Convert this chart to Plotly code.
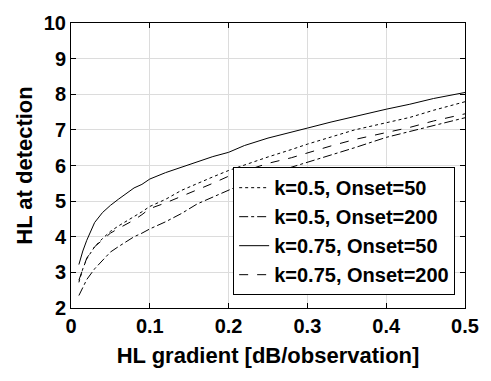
import plotly.graph_objects as go

x_vals = [0.01, 0.015, 0.02, 0.03, 0.04, 0.05, 0.06, 0.07, 0.08, 0.09, 0.1, 0.12, 0.14,
          0.16, 0.18, 0.2, 0.22, 0.25, 0.28, 0.3, 0.33, 0.36, 0.4, 0.43, 0.46, 0.5]

k05_on50 = [2.72, 3.1, 3.38, 3.72, 3.95, 4.15, 4.3, 4.43, 4.55, 4.7, 4.85, 5.05, 5.3,
            5.5, 5.68, 5.86, 6.02, 6.24, 6.45, 6.6, 6.8, 7.0, 7.2, 7.35, 7.55, 7.79]
k05_on200 = [2.35, 2.6, 2.8, 3.1, 3.35, 3.57, 3.72, 3.86, 4.0, 4.1, 4.22, 4.42, 4.65,
             4.92, 5.12, 5.3, 5.5, 5.75, 5.95, 6.1, 6.3, 6.5, 6.79, 6.95, 7.12, 7.34]
k075_on50 = [3.22, 3.6, 3.9, 4.4, 4.68, 4.88, 5.05, 5.22, 5.37, 5.47, 5.62, 5.8, 5.95,
             6.08, 6.25, 6.37, 6.56, 6.77, 6.95, 7.05, 7.22, 7.38, 7.58, 7.72, 7.88, 8.05]
k075_on200 = [2.78, 3.12, 3.4, 3.72, 3.92, 4.1, 4.23, 4.35, 4.47, 4.62, 4.79, 4.95, 5.13,
              5.32, 5.5, 5.7, 5.85, 6.06, 6.22, 6.36, 6.55, 6.73, 6.93, 7.07, 7.25, 7.45]

series = [
    ("k=0.5, Onset=50", k05_on50, "dot"),
    ("k=0.5, Onset=200", k05_on200, "dashdot"),
    ("k=0.75, Onset=50", k075_on50, "solid"),
    ("k=0.75, Onset=200", k075_on200, "dash"),
]

x_ticks = [0, 0.1, 0.2, 0.3, 0.4, 0.5]
x_tick_labels = ["0", "0.1", "0.2", "0.3", "0.4", "0.5"]
y_ticks = [2, 3, 4, 5, 6, 7, 8, 9, 10]

fig = go.Figure()
for name, ys, dash in series:
    fig.add_trace(go.Scatter(x=x_vals, y=ys, mode="lines", name=name,
                             line=dict(color="black", width=1, dash=dash)))

font_family = "Liberation Sans, Arial, sans-serif"
axis_common = dict(showline=True, linecolor="black", linewidth=1, mirror="ticks",
                   ticks="inside", ticklen=5, tickcolor="black",
                   showgrid=True, gridcolor="#dcdcdc", gridwidth=1, zeroline=False,
                   tickfont=dict(family=font_family, size=20, color="black", weight="bold"))

fig.update_layout(
    width=491, height=381,
    margin=dict(l=71, r=17, t=15, b=73),
    paper_bgcolor="white", plot_bgcolor="white",
    xaxis=dict(range=[0, 0.5], tickvals=x_ticks, ticktext=x_tick_labels,
               title=dict(text="HL gradient [dB/observation]", standoff=11,
                          font=dict(family=font_family, size=22, color="black", weight="bold")),
               **axis_common),
    yaxis=dict(range=[2, 10], tickvals=y_ticks,
               title=dict(text="HL at detection", standoff=5,
                          font=dict(family=font_family, size=22, color="black", weight="bold")),
               **axis_common),
    legend=dict(x=0.975, y=0.045, xanchor="right", yanchor="bottom",
                bgcolor="white", bordercolor="black", borderwidth=1,
                font=dict(family=font_family, size=20, color="black", weight="bold"),
                tracegroupgap=0, itemwidth=30),
    showlegend=True,
)

fig.write_html("out.html")
